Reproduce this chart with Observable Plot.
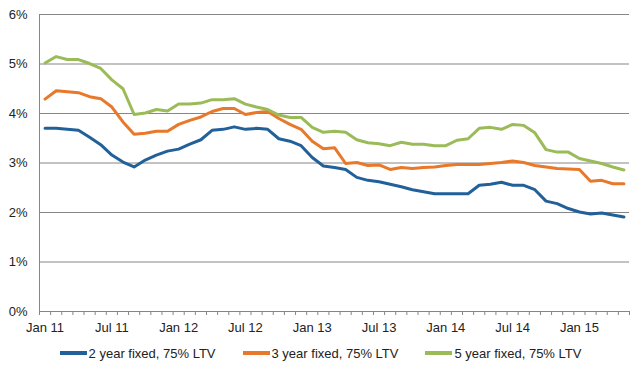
<!DOCTYPE html>
<html><head><meta charset="utf-8">
<script src="https://cdn.jsdelivr.net/npm/d3@7"></script>
<script src="https://cdn.jsdelivr.net/npm/@observablehq/plot@0.6"></script>
<style>
html,body{margin:0;padding:0;background:#fff;}
body{width:641px;height:373px;overflow:hidden;font-family:"Liberation Sans",Arial,sans-serif;}
#chart svg{display:block;}
#legend{display:flex;justify-content:center;align-items:center;height:26px;font-size:13px;color:#222;}
.item{display:flex;align-items:center;margin:0 13.5px;}
.sw{width:27px;height:3.5px;margin-right:2px;}
</style></head><body><div id="chart"></div><div id="legend"></div><script>
const months = ["Jan 11","Feb 11","Mar 11","Apr 11","May 11","Jun 11","Jul 11","Aug 11","Sep 11","Oct 11","Nov 11","Dec 11",
"Jan 12","Feb 12","Mar 12","Apr 12","May 12","Jun 12","Jul 12","Aug 12","Sep 12","Oct 12","Nov 12","Dec 12",
"Jan 13","Feb 13","Mar 13","Apr 13","May 13","Jun 13","Jul 13","Aug 13","Sep 13","Oct 13","Nov 13","Dec 13",
"Jan 14","Feb 14","Mar 14","Apr 14","May 14","Jun 14","Jul 14","Aug 14","Sep 14","Oct 14","Nov 14","Dec 14",
"Jan 15","Feb 15","Mar 15","Apr 15","May 15"];
const tickLabels = ["Jan 11","Jul 11","Jan 12","Jul 12","Jan 13","Jul 13","Jan 14","Jul 14","Jan 15"];
const yTicks = [0,1,2,3,4,5,6];
const seriesNames = ["2 year fixed, 75% LTV","3 year fixed, 75% LTV","5 year fixed, 75% LTV"];
const seriesColors = ["#22609A","#E8782A","#9BBB59"];
const twoYear = [3.70,3.70,3.68,3.66,3.52,3.37,3.16,3.02,2.92,3.06,3.16,3.24,
3.28,3.38,3.47,3.66,3.68,3.73,3.68,3.70,3.68,3.49,3.44,3.35,
3.11,2.94,2.91,2.87,2.71,2.65,2.62,2.57,2.52,2.46,2.42,2.38,
2.38,2.38,2.38,2.55,2.57,2.61,2.55,2.55,2.46,2.23,2.18,2.08,
2.01,1.97,1.99,1.95,1.91];
const threeYear = [4.29,4.46,4.44,4.42,4.34,4.30,4.13,3.83,3.58,3.60,3.64,3.64,
3.78,3.86,3.93,4.04,4.10,4.10,3.98,4.02,4.04,3.90,3.78,3.68,
3.44,3.29,3.31,2.99,3.01,2.95,2.96,2.87,2.91,2.89,2.91,2.92,
2.95,2.97,2.97,2.97,2.99,3.01,3.04,3.01,2.95,2.92,2.89,2.88,
2.87,2.63,2.65,2.58,2.58];
const fiveYear = [5.02,5.15,5.09,5.09,5.01,4.91,4.68,4.50,3.98,4.01,4.08,4.05,
4.19,4.19,4.21,4.28,4.28,4.30,4.19,4.13,4.08,3.97,3.92,3.92,
3.72,3.62,3.64,3.62,3.47,3.41,3.39,3.35,3.42,3.38,3.38,3.35,
3.35,3.46,3.49,3.70,3.72,3.68,3.78,3.76,3.61,3.27,3.22,3.22,
3.09,3.04,2.99,2.92,2.86];

const seriesValues = [twoYear, threeYear, fiveYear];
const data = [];
seriesNames.forEach((name, s) => seriesValues[s].forEach((v, i) => data.push({i, v, name})));
const boundaries = months.map((m, i) => i - 0.5).concat([months.length - 0.5]);
const labelIdx = tickLabels.map(t => months.indexOf(t));
const gridColor = "#868686";

const chart = Plot.plot({
  width: 641, height: 340,
  marginLeft: 39, marginRight: 12, marginTop: 14, marginBottom: 29,
  style: {fontFamily: "'Liberation Sans', Arial, sans-serif", fontSize: "13px", color: "#222", background: "#fff"},
  x: {type: "linear", domain: [-0.5, months.length - 0.5]},
  y: {domain: [0, 6]},
  color: {domain: seriesNames, range: seriesColors},
  marks: [
    Plot.gridY(yTicks, {stroke: gridColor, strokeOpacity: 1}),
    Plot.axisY(yTicks, {tickSize: 0, tickPadding: 12, tickFormat: d => d + "%", label: null}),
    Plot.ruleX([-0.5], {stroke: gridColor}),
    Plot.axisX(boundaries, {tickSize: 4, tickFormat: () => "", stroke: gridColor, label: null}),
    Plot.axisX(labelIdx, {tickSize: 0, tickPadding: 11, tickFormat: i => months[i], label: null}),
    Plot.ruleY([0], {stroke: gridColor}),
    Plot.line(data, {x: "i", y: "v", z: "name", stroke: "name", strokeWidth: 3, strokeLinejoin: "round"})
  ]
});
document.getElementById("chart").appendChild(chart);

const legend = document.getElementById("legend");
seriesNames.forEach((name, s) => {
  const item = document.createElement("div");
  item.className = "item";
  const sw = document.createElement("span");
  sw.className = "sw";
  sw.style.background = seriesColors[s];
  const tx = document.createElement("span");
  tx.textContent = name;
  item.appendChild(sw); item.appendChild(tx);
  legend.appendChild(item);
});
</script></body></html>
